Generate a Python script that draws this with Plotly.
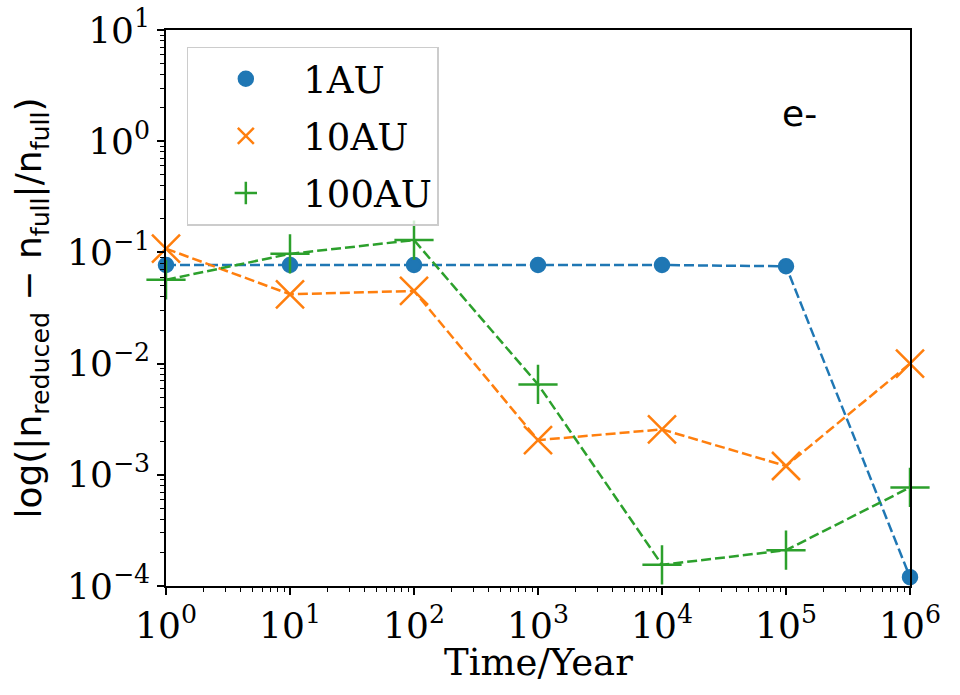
import plotly.graph_objects as go

time_years = [1, 10, 100, 1000, 10000, 100000, 1000000]
au1 = [0.077, 0.077, 0.077, 0.077, 0.077, 0.075, 1.2e-4]
au10 = [0.108, 0.042, 0.045, 0.00205, 0.00256, 0.0012, 0.0100]
au100 = [0.0567, 0.097, 0.129, 0.0065, 0.000155, 0.00021, 0.00077]
series_names = ["1AU", "10AU", "100AU"]
colors = ["#1f77b4", "#ff7f0e", "#2ca02c"]
x_tickvals = [1, 10, 100, 1000, 10000, 100000, 1000000]
x_ticktext = ["10<sup>%d</sup>" % i for i in range(0, 7)]
y_tickvals = [1e-4, 1e-3, 1e-2, 1e-1, 1, 10]
y_ticktext = ["10<sup>−4</sup>", "10<sup>−3</sup>", "10<sup>−2</sup>", "10<sup>−1</sup>", "10<sup>0</sup>", "10<sup>1</sup>"]
x_minor = [m * 10 ** k for k in range(0, 6) for m in range(2, 10)]
y_minor = [m * 10.0 ** k for k in range(-4, 1) for m in range(2, 10)]

serif = "DejaVu Serif"
sans = "DejaVu Sans"
FS = 36

fig = go.Figure()
data = [au1, au10, au100]
symbols = ["circle", "x-thin-open", "cross-thin-open"]
sizes = [14, 28, 28]
for name, ys, c, sym, sz in zip(series_names, data, colors, symbols, sizes):
    fig.add_trace(go.Scatter(x=time_years, y=ys, mode="lines", line=dict(color=c, width=2.5, dash="10px,4px"),
                             showlegend=False, hoverinfo="skip", cliponaxis=False, legendgroup=name))
    fig.add_trace(go.Scatter(x=time_years, y=ys, mode="markers", name=name, legendgroup=name,
                             marker=dict(symbol=sym, size=sz, color=c, line=dict(color=c, width=2.5)),
                             cliponaxis=False))

fig.add_annotation(x=0.852, y=0.85, xref="paper", yref="paper", text="e-", showarrow=False,
                   xanchor="center", yanchor="middle",
                   font=dict(family=sans, size=FS, color="black"))
fig.add_annotation(x=0.5, y=-0.137, xref="paper", yref="paper", text="Time/Year", showarrow=False,
                   xanchor="center", yanchor="middle",
                   font=dict(family=serif, size=37, color="black"))

axis_common = dict(showline=True, linecolor="black", linewidth=1.5, mirror=True, ticks="outside",
                   ticklen=7, tickwidth=1.5, tickcolor="black", showgrid=False, zeroline=False,
                   automargin=False,
                   tickfont=dict(family=serif, size=FS, color="black"))

fig.update_xaxes(type="log", range=[0, 6], tickvals=x_tickvals, ticktext=x_ticktext,
                 minor=dict(tickvals=x_minor, ticks="outside", ticklen=4, tickwidth=1, tickcolor="black", showgrid=False),
                 **axis_common)
fig.update_yaxes(type="log", range=[-4, 1], tickvals=y_tickvals, ticktext=y_ticktext,
                 minor=dict(tickvals=y_minor, ticks="outside", ticklen=4, tickwidth=1, tickcolor="black", showgrid=False),
                 title=dict(text="log(|n<sub>reduced</sub> − n<sub>full</sub>|/n<sub>full</sub>)",
                            font=dict(family=sans, size=36, color="black"), standoff=14),
                 **axis_common)

fig.update_layout(
    width=960, height=695,
    margin=dict(l=166, r=50, t=30, b=109),
    paper_bgcolor="white", plot_bgcolor="white",
    legend=dict(x=0.028, y=0.97, xanchor="left", yanchor="top", bgcolor="rgba(255,255,255,0.8)",
                bordercolor="#cccccc", borderwidth=1.5, tracegroupgap=6, traceorder="grouped",
                font=dict(family=serif, size=37, color="black"), itemwidth=105),
)

fig.write_html("out.html")
